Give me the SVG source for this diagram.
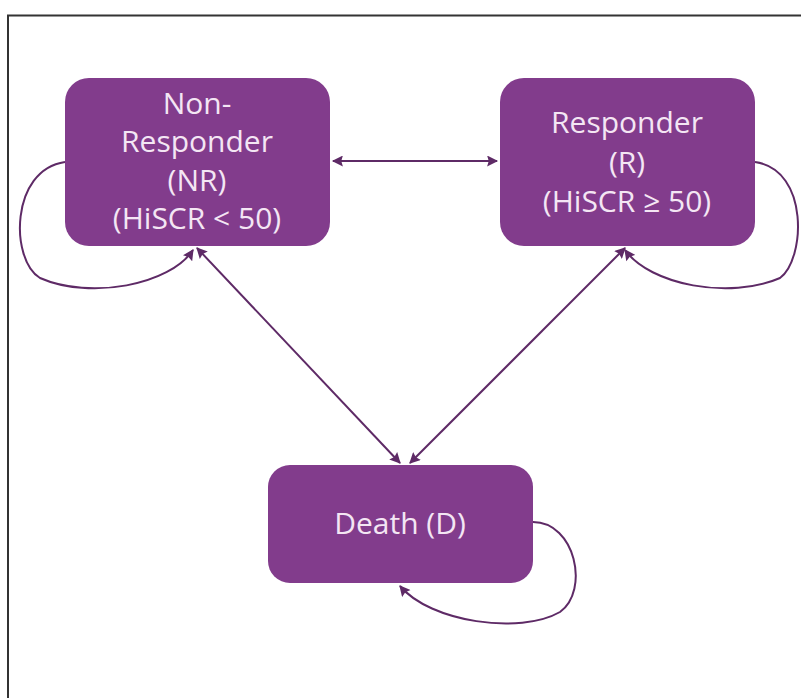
<svg xmlns="http://www.w3.org/2000/svg" width="801" height="698" viewBox="0 0 801 698">
<style>
.node{fill:#823c8c;}
.lbl{font-family:"Open Sans","Noto Sans",sans-serif;font-size:30px;fill:#f4e6f4;text-anchor:middle;}
.edge{fill:none;stroke:#5e2a66;stroke-width:2;}
</style>
<defs>
<marker id="ah" viewBox="0 0 10 10" refX="9" refY="5" markerWidth="12" markerHeight="11" orient="auto-start-reverse" markerUnits="userSpaceOnUse">
<path d="M0,0 L10,5 L0,10 L1.5,5 z" fill="#5e2a66"/>
</marker>
</defs>
<rect width="801" height="698" fill="#ffffff"/>
<path d="M8,698 V15.5 H801" fill="none" stroke="#333" stroke-width="2"/>
<g id="connectors">
<line class="edge" x1="333" y1="161" x2="497" y2="161" marker-start="url(#ah)" marker-end="url(#ah)"/>
<line class="edge" x1="197" y1="248" x2="400" y2="463" marker-start="url(#ah)" marker-end="url(#ah)"/>
<line class="edge" x1="625" y1="248" x2="410" y2="463" marker-start="url(#ah)" marker-end="url(#ah)"/>
<path class="edge" d="M65,162 C10,170 10,260 40,278 C90,300 170,285 193,250" marker-end="url(#ah)"/>
<path class="edge" d="M755,162 C810,170 805,260 780,278 C730,300 650,285 625,250" marker-end="url(#ah)"/>
<path class="edge" d="M533,522 C575,522 590,590 560,612 C520,635 430,622 400,586" marker-end="url(#ah)"/>
</g>
<g id="node-nr">
<rect class="node" x="65" y="78" width="265" height="168" rx="24"/>
<text class="lbl" x="197" y="114">Non-</text>
<text class="lbl" x="197" y="152">Responder</text>
<text class="lbl" x="197" y="191">(NR)</text>
<text class="lbl" x="197" y="229">(HiSCR &lt; 50)</text>
</g>
<g id="node-r">
<rect class="node" x="500" y="78" width="255" height="168" rx="24"/>
<text class="lbl" x="627" y="133">Responder</text>
<text class="lbl" x="627" y="173">(R)</text>
<text class="lbl" x="627" y="212">(HiSCR ≥ 50)</text>
</g>
<g id="node-d">
<rect class="node" x="268" y="465" width="265" height="118" rx="22"/>
<text class="lbl" x="400" y="534">Death (D)</text>
</g>
</svg>
